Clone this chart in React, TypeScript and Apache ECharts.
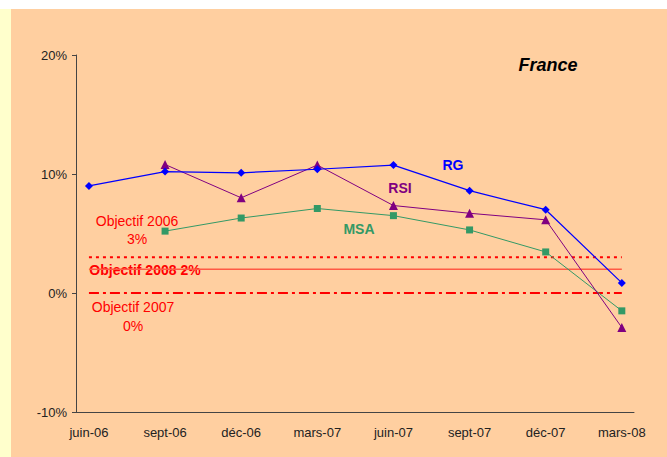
import React, { useEffect, useRef } from "react";
import * as echarts from "echarts";

const categories = ["juin-06", "sept-06", "déc-06", "mars-07", "juin-07", "sept-07", "déc-07", "mars-08"];
const rgValues: (number | null)[] = [9.0, 10.2, 10.1, 10.4, 10.75, 8.6, 7.0, 0.85];
const rsiValues: (number | null)[] = [null, 10.8, 8.0, 10.75, 7.35, 6.7, 6.15, -2.9];
const msaValues: (number | null)[] = [null, 5.2, 6.3, 7.1, 6.5, 5.3, 3.45, -1.5];
const objectif2006 = 3;
const objectif2008 = 2;
const objectif2007 = 0;
const yTicks = [-10, 0, 10, 20];

const FONT = "'Liberation Sans', Arial, sans-serif";

function pairs(vals: (number | null)[]) {
  return vals.map((v, i) => [i, v]).filter((p) => p[1] !== null);
}
function flat(v: number) {
  return categories.map((_, i) => [i, v]);
}

export default function App() {
  const ref = useRef<HTMLDivElement>(null);
  useEffect(() => {
    const chart = echarts.init(ref.current!, null, { renderer: "svg" });
    chart.setOption({
      animation: false,
      backgroundColor: "#ffffff",
      grid: { left: 76, right: 33, top: 55, bottom: 45 },
      xAxis: {
        type: "value",
        min: -0.17,
        max: 7.16,
        splitLine: { show: false },
        axisTick: { show: false },
        axisLine: { show: true, onZero: false, lineStyle: { color: "#444", width: 1 } },
        axisLabel: {
          customValues: categories.map((_, i) => i),
          formatter: (v: number) => categories[Math.round(v)] ?? "",
          color: "#222",
          fontFamily: FONT,
          fontSize: 13,
          margin: 14,
        },
      },
      yAxis: {
        type: "value",
        min: yTicks[0],
        max: yTicks[yTicks.length - 1],
        interval: 10,
        splitLine: { show: false },
        axisLine: { show: true, onZero: false, lineStyle: { color: "#444", width: 1 } },
        axisTick: { show: true, length: 4, lineStyle: { color: "#444" } },
        axisLabel: {
          formatter: (v: number) => `${v}%`,
          color: "#222",
          fontFamily: FONT,
          fontSize: 13,
          margin: 9,
        },
      },
      graphic: [
        { type: "rect", z: -10, silent: true, shape: { x: 0, y: 9, width: 11, height: 448 }, style: { fill: "#FFFFCC" } },
        { type: "rect", z: -10, silent: true, shape: { x: 11, y: 9, width: 656, height: 448 }, style: { fill: "#FFCFA0" } },
        { type: "text", x: 548, y: 65, style: { text: "France", font: `italic bold 18px ${FONT}`, fill: "#000", align: "center", verticalAlign: "middle" } },
        { type: "text", x: 137, y: 221, style: { text: "Objectif 2006", font: `14px ${FONT}`, fill: "#FF0000", align: "center", verticalAlign: "middle" } },
        { type: "text", x: 137, y: 239, style: { text: "3%", font: `14px ${FONT}`, fill: "#FF0000", align: "center", verticalAlign: "middle" } },
        { type: "text", x: 133, y: 307, style: { text: "Objectif 2007", font: `14px ${FONT}`, fill: "#FF0000", align: "center", verticalAlign: "middle" } },
        { type: "text", x: 133, y: 326, style: { text: "0%", font: `14px ${FONT}`, fill: "#FF0000", align: "center", verticalAlign: "middle" } },
        { type: "text", x: 145, y: 270, z: 1, style: { text: "Objectif 2008 2%", font: `bold 14px ${FONT}`, fill: "#FF0000", align: "center", verticalAlign: "middle" } },
        { type: "text", x: 453, y: 165, style: { text: "RG", font: `bold 14px ${FONT}`, fill: "#0000FF", align: "center", verticalAlign: "middle" } },
        { type: "text", x: 400, y: 188, style: { text: "RSI", font: `bold 14px ${FONT}`, fill: "#800080", align: "center", verticalAlign: "middle" } },
        { type: "text", x: 359, y: 229, style: { text: "MSA", font: `bold 14px ${FONT}`, fill: "#339966", align: "center", verticalAlign: "middle" } },
      ],
      series: [
        {
          name: "Objectif 2006", type: "line", data: flat(objectif2006), showSymbol: false, symbol: "none", z: 1,
          lineStyle: { color: "#FF0000", width: 2, type: [3, 4] },
        },
        {
          name: "Objectif 2008", type: "line", data: flat(objectif2008), showSymbol: false, symbol: "none", z: 1,
          lineStyle: { color: "#FF5A45", width: 1.5, type: "solid" },
        },
        {
          name: "Objectif 2007", type: "line", data: flat(objectif2007), showSymbol: false, symbol: "none", z: 1,
          lineStyle: { color: "#FF0000", width: 2, type: [10, 4, 3, 4] },
        },
        {
          name: "MSA", type: "line", data: pairs(msaValues), symbol: "rect", symbolSize: 7, z: 3,
          itemStyle: { color: "#339966" }, lineStyle: { color: "#339966", width: 1 },
        },
        {
          name: "RSI", type: "line", data: pairs(rsiValues), symbol: "triangle", symbolSize: 9, z: 3,
          itemStyle: { color: "#800080" }, lineStyle: { color: "#800080", width: 1 },
        },
        {
          name: "RG", type: "line", data: pairs(rgValues), symbol: "diamond", symbolSize: 8, z: 4,
          itemStyle: { color: "#0000FF" }, lineStyle: { color: "#0000FF", width: 1.2 },
        },
      ],
    });
    return () => chart.dispose();
  }, []);
  return (
    <div
      ref={ref}
      style={{ position: "fixed", left: 0, top: 0, width: 667, height: 457 }}
    />
  );
}
